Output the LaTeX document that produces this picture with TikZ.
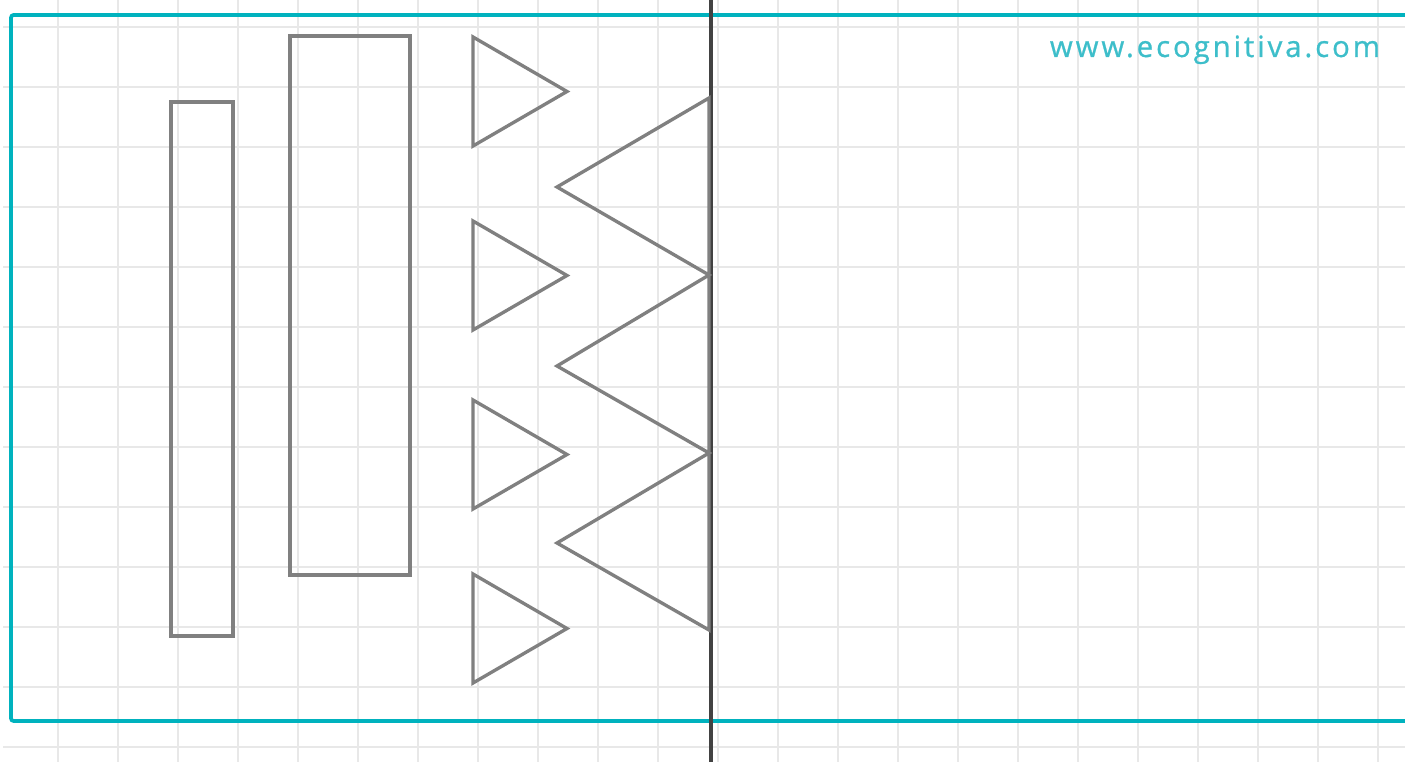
\documentclass[tikz,border=0pt]{standalone}
\usepackage{fontspec}
\usetikzlibrary{positioning}
\newfontfamily\sitefont[LetterSpace=10,FakeBold=0.8]{Open Sans}
\definecolor{ecyan}{HTML}{00B2BE}
\definecolor{etext}{HTML}{3DBECA}
\definecolor{eshape}{HTML}{808080}
\definecolor{erule}{HTML}{424242}
\definecolor{egrid}{HTML}{E8E8E8}
\tikzset{
  gridline/.style = {egrid, line width=1.8pt},
  frame/.style    = {ecyan, line width=2.8pt, rounded corners=2pt},
  bar/.style      = {eshape, line width=2.5pt},
  wedge/.style    = {eshape, line width=2.5pt, line join=miter},
  divider/.style  = {erule, line width=3.6pt},
}

\begin{document}
\begin{tikzpicture}[x=0.75pt,y=-0.75pt]
\useasboundingbox (0,0) rectangle (1405,762);
\clip (0,0) rectangle (1405,762);
\fill[white] (0,0) rectangle (1405,762);
\foreach \i in {0,...,22}
  \draw[gridline] ({58+\i*60},0) -- ({58+\i*60},762);
\foreach \j in {0,...,12}
  \draw[gridline] (3,{27+\j*60}) -- (1405,{27+\j*60});
\draw[frame] (1420,15) -- (11,15) -- (11,721) -- (1420,721);
\node[etext,font=\sitefont\fontsize{22}{24}\selectfont,anchor=base,inner sep=0pt]
  (site) at (1215,57) {www.ecognitiva.com};
\draw[bar] (171,102) rectangle (233,636);
\draw[bar] (290,36) rectangle (410,575);
\draw[divider] (711,0) -- (711,762);
\foreach \t in {37,221,400,574}
  \draw[wedge] (473,\t) -- (567,{\t+54.5}) -- (473,{\t+109}) -- cycle;
\draw[wedge] (709,98) -- (557,187) -- (709,275) -- (557,366) -- (709,453)
  -- (557,543) -- (709,630) -- cycle;
\end{tikzpicture}
\end{document}
